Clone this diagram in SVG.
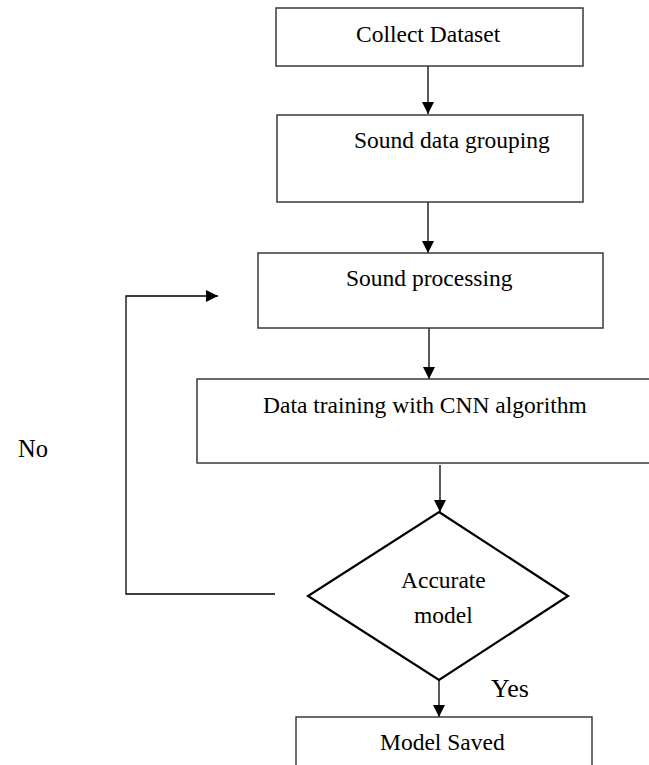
<svg xmlns="http://www.w3.org/2000/svg" width="649" height="765" viewBox="0 0 649 765">
<style>
.box{fill:#fff;stroke:#3a3a3a;stroke-width:1.5}
.dia{fill:#fff;stroke:#000;stroke-width:2.2}
.t{font-family:"Liberation Serif","Times New Roman",serif;font-size:23.5px;fill:#000}
.c{fill:none;stroke:#000;stroke-width:1.3}
</style>
<defs>
<marker id="ah" markerWidth="12" markerHeight="14" refX="12" refY="6" orient="auto" markerUnits="userSpaceOnUse">
<path d="M0,0 L12,6 L0,12 Z" fill="#000"/>
</marker>
</defs>
<rect width="649" height="765" fill="#fff"/>
<g id="connectors">
<line class="c" x1="428" y1="66" x2="428" y2="114" marker-end="url(#ah)"/>
<line class="c" x1="428" y1="202" x2="428" y2="253" marker-end="url(#ah)"/>
<line class="c" x1="429" y1="328" x2="429" y2="379" marker-end="url(#ah)"/>
<line class="c" x1="440" y1="465" x2="440" y2="512" marker-end="url(#ah)"/>
<line class="c" x1="439" y1="669" x2="439" y2="717" marker-end="url(#ah)"/>
<polyline class="c" points="275,594 126,594 126,296 218,296" marker-end="url(#ah)"/>
</g>
<g id="n1"><rect class="box" x="276" y="8" width="307" height="58"/><text class="t" x="356" y="42">Collect Dataset</text></g>
<g id="n2"><rect class="box" x="277" y="115" width="306" height="87"/><text class="t" x="354" y="148">Sound data grouping</text></g>
<g id="n3"><rect class="box" x="258" y="253" width="345" height="75"/><text class="t" x="346" y="286">Sound processing</text></g>
<g id="n4"><rect class="box" x="197" y="379" width="460" height="84"/><text class="t" x="263" y="413">Data training with CNN algorithm</text></g>
<g id="n5"><polygon class="dia" points="439,512 568,596 439,680 308,596"/><text class="t" x="401" y="588">Accurate</text><text class="t" x="414" y="623">model</text></g>
<g id="n6"><rect class="box" x="296" y="717" width="296" height="60"/><text class="t" x="380" y="750">Model Saved</text></g>
<text class="t" x="491" y="697" style="font-size:26px">Yes</text>
<text class="t" x="18" y="457" style="font-size:24.5px">No</text>
</svg>
